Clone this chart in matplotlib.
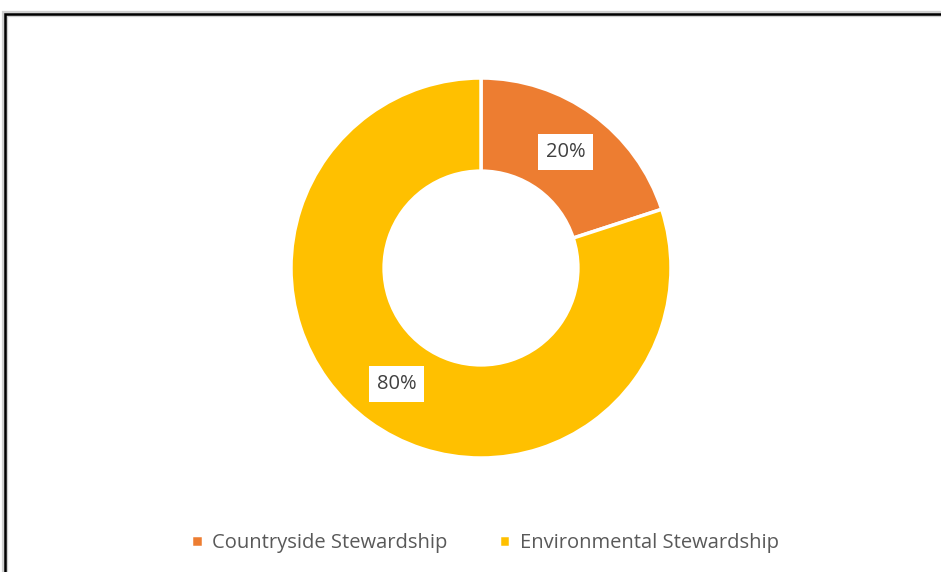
import matplotlib.pyplot as plt
from matplotlib.patches import Rectangle

# Agreement shares by scheme
schemes = ["Countryside Stewardship", "Environmental Stewardship"]
shares = [20, 80]
colors = ["#ED7D31", "#FFC000"]

W, H = 941, 572
fig = plt.figure(figsize=(W / 100, H / 100), dpi=100)
fig.patch.set_facecolor("white")

# chart border (right/bottom edges run off the canvas)
fig.patches.append(Rectangle((5 / W, -0.1), 1.2, (H - 14) / H + 0.1,
                             transform=fig.transFigure, fill=False,
                             edgecolor="#d0d0d0", lw=4.5, zorder=0))
fig.patches.append(Rectangle((5 / W, -0.1), 1.2, (H - 14) / H + 0.1,
                             transform=fig.transFigure, fill=False,
                             edgecolor="black", lw=1.8, zorder=1))

cx, cy, r = 481, 268, 190
ax = fig.add_axes([(cx - r) / W, (H - cy - r) / H, 2 * r / W, 2 * r / H])
ax.set_aspect("equal")

wedges, texts, autotexts = ax.pie(
    shares, colors=colors, startangle=90, counterclock=False,
    radius=1, autopct="%d%%", pctdistance=0.755,
    wedgeprops=dict(width=0.49, edgecolor="white", linewidth=2.5),
    textprops=dict(color="#404040", fontsize=14.5, family="Open Sans"))
for t in autotexts:
    t.set_bbox(dict(facecolor="white", edgecolor="none", pad=5.5))

ax.set_xlim(-1, 1)
ax.set_ylim(-1, 1)
ax.axis("off")

fig.legend(wedges, schemes, loc="center", bbox_to_anchor=(485 / W, 1 - 543 / H),
           ncol=2, frameon=False, handlelength=0.55, handleheight=0.55,
           handletextpad=0.45, columnspacing=2.6,
           prop=dict(family="Open Sans", size=14.5), labelcolor="#595959")

fig.savefig("out.png", dpi=100, facecolor="white")
